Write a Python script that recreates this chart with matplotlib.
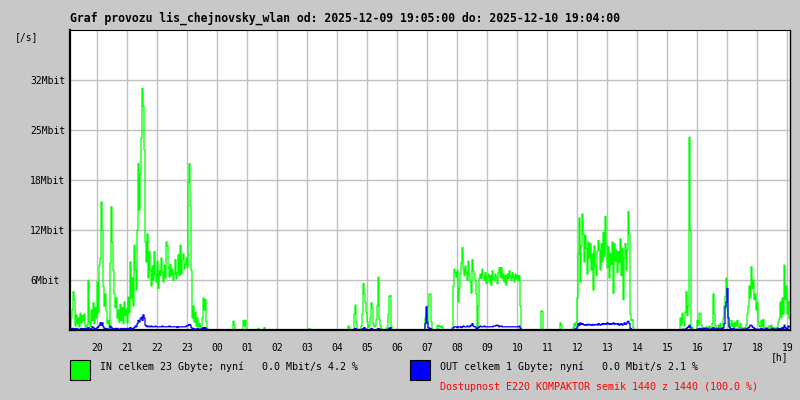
import matplotlib
matplotlib.use("Agg")
import matplotlib.pyplot as plt
import matplotlib.dates as mdates
import pandas as pd

# traffic samples, one per 2 minutes from 19:05 (Mbit/s)
in_mbit = [
    0.3, 1.5, 2.5, 4.8, 3.8, 0.5, 1.9, 0.8, 1.5, 0.4,
    2.1, 0.9, 1.8, 1.2, 2.0, 0.5, 0.2, 0.6, 6.2, 1.0,
    0.4, 2.5, 1.2, 3.4, 0.8, 2.8, 1.5, 6.0, 2.2, 8.1,
    9.0, 16.0, 12.5, 5.5, 3.0, 4.5, 2.4, 0.8, 1.2, 0.3,
    8.4, 15.4, 11.0, 7.5, 4.5, 2.8, 4.0, 1.5, 2.5, 1.0,
    3.2, 1.2, 2.8, 0.8, 3.5, 1.8, 2.6, 0.9, 4.1, 2.2,
    8.5, 4.0, 6.5, 3.0, 10.6, 7.5, 5.0, 12.5, 20.8, 15.0,
    19.5, 24.0, 30.2, 28.0, 22.5, 11.0, 8.5, 12.0, 6.5, 9.8,
    7.5, 5.5, 8.0, 6.2, 9.8, 7.0, 6.0, 8.6, 5.2, 7.4,
    6.8, 9.0, 7.2, 6.0, 8.1, 6.5, 11.0, 10.5, 7.8, 6.6,
    8.2, 6.8, 7.6, 6.2, 7.0, 8.8, 6.4, 7.2, 9.4, 6.8,
    10.6, 7.0, 8.8, 9.5, 7.6, 8.2, 9.0, 7.8, 18.5, 20.8,
    15.5, 7.5, 1.5, 3.0, 1.0, 2.2, 0.5, 1.5, 0.4, 0.8,
    0.2, 0.5, 1.5, 4.0, 2.5, 3.8, 1.0, 0.2, 0, 0,
    0, 0, 0, 0, 0, 0, 0, 0, 0, 0,
    0, 0, 0, 0, 0, 0, 0, 0, 0, 0,
    0, 0, 0, 1.1, 0.6, 0, 0, 0, 0, 0,
    0, 0, 0, 1.2, 0.5, 1.2, 0, 0, 0, 0,
    0, 0, 0, 0, 0, 0, 0, 0, 0.2, 0,
    0, 0, 0, 0, 0.3, 0, 0, 0, 0, 0,
    0, 0, 0, 0, 0, 0, 0, 0, 0, 0,
    0, 0, 0, 0, 0, 0, 0, 0, 0, 0,
    0, 0, 0, 0, 0, 0, 0, 0, 0, 0,
    0, 0, 0, 0, 0, 0, 0, 0, 0, 0.2,
    0, 0, 0, 0, 0, 0, 0, 0, 0, 0,
    0, 0, 0, 0, 0, 0, 0, 0, 0, 0,
    0, 0, 0, 0, 0, 0, 0, 0, 0, 0,
    0, 0, 0, 0, 0, 0, 0, 0, 0.5, 0.3,
    0, 0, 0, 0, 2.0, 3.1, 1.0, 0, 0, 0,
    0.2, 0.5, 2.0, 5.8, 4.5, 3.5, 2.2, 1.0, 0.3, 0.5,
    1.5, 3.4, 2.8, 0.8, 0.4, 0.5, 1.3, 3.0, 6.6, 1.4,
    0.5, 0.2, 0, 0, 0, 0, 0.2, 0.3, 2.0, 4.2,
    4.3, 0.5, 0, 0, 0, 0, 0, 0, 0, 0,
    0, 0, 0, 0, 0, 0, 0, 0, 0, 0,
    0, 0, 0, 0, 0, 0, 0, 0, 0, 0,
    0, 0, 0, 0, 0, 1.5, 2.0, 0.8, 3.0, 4.5,
    4.5, 1.0, 0, 0, 0, 0, 0, 0.5, 0.6, 0.4,
    0.5, 0.3, 0.4, 0, 0, 0, 0, 0, 0, 0,
    0, 0, 0.3, 5.5, 7.6, 7.2, 6.6, 7.4, 3.5, 5.2,
    7.0, 8.4, 10.3, 7.6, 6.8, 8.0, 7.2, 6.2, 8.6, 7.0,
    6.0, 4.6, 8.8, 7.4, 7.0, 6.2, 4.5, 0.3, 3.0, 6.5,
    7.0, 6.4, 7.6, 6.8, 6.2, 7.2, 5.8, 6.6, 7.0, 6.0,
    6.8, 5.6, 7.4, 6.4, 6.2, 7.0, 6.6, 5.8, 7.2, 7.8,
    6.6, 7.8, 6.4, 7.0, 6.0, 6.8, 5.6, 7.0, 6.4, 7.4,
    6.8, 6.2, 7.2, 6.6, 6.0, 7.0, 6.4, 6.8, 6.2, 6.8,
    3.0, 0, 0, 0, 0, 0, 0, 0, 0, 0,
    0, 0, 0, 0, 0, 0, 0, 0, 0, 0,
    0, 2.4, 2.3, 0, 0, 0, 0, 0, 0, 0,
    0, 0, 0, 0, 0, 0, 0, 0, 0, 0,
    0.9, 0.6, 0, 0, 0, 0, 0, 0, 0, 0,
    0, 0, 0, 0.3, 0.8, 0.5, 1.0, 4.0, 9.5, 14.0,
    6.0, 10.5, 14.5, 12.0, 8.5, 11.8, 10.2, 7.0, 11.0, 9.0,
    10.8, 7.5, 9.5, 5.0, 10.5, 8.0, 6.8, 9.8, 11.2, 10.0,
    7.5, 10.8, 8.5, 12.2, 9.2, 14.2, 10.5, 7.8, 10.4, 6.5,
    9.6, 8.2, 11.0, 4.6, 10.8, 8.6, 10.0, 7.2, 9.8, 8.4,
    11.4, 6.8, 10.2, 3.8, 9.0, 10.8, 7.5, 10.0, 14.8, 12.0,
    2.0, 1.2, 1.3, 0.3, 0, 0, 0, 0, 0, 0,
    0, 0, 0, 0, 0, 0, 0, 0, 0, 0,
    0, 0, 0, 0, 0, 0, 0, 0, 0, 0,
    0, 0, 0, 0, 0, 0, 0, 0, 0, 0,
    0, 0, 0, 0, 0, 0, 0, 0, 0, 0,
    1.5, 0.6, 2.1, 1.0, 0.5, 2.2, 4.8, 1.8, 3.0, 24.1,
    12.5, 0.4, 0.3, 0, 0, 0, 0, 1.2, 0.6, 2.1,
    2.1, 0.6, 0.3, 0.2, 0.3, 0.2, 0.4, 0.3, 0.2, 0.5,
    0.3, 0.2, 0.8, 4.5, 2.0, 0.5, 0.3, 0.2, 0.6, 0.3,
    0.8, 0.3, 0.2, 1.5, 3.0, 4.2, 6.5, 2.5, 0.8, 0.3,
    0.6, 1.2, 0.4, 0.8, 0.3, 1.0, 0.5, 1.2, 0.4, 0.3,
    0.8, 0.3, 0.2, 0.2, 0.3, 0.2, 0.6, 2.0, 3.0, 5.5,
    4.0, 7.9, 5.2, 6.2, 3.8, 4.5, 2.5, 3.4, 1.0, 0.5,
    0.4, 1.2, 0.4, 1.3, 0.3, 0.2, 0.3, 0.2, 0.4, 0.5,
    0.3, 0.6, 0.2, 0.3, 0.2, 0.2, 0.3, 0.2, 1.0, 1.4,
    3.5, 1.6, 4.0, 2.0, 8.1, 3.8, 5.5, 2.0, 3.6, 1.5,
]

out_mbit = [
    0.1, 0.1, 0.2, 0.2, 0.1, 0.1, 0.2, 0.1, 0.1, 0.1,
    0.1, 0.2, 0.1, 0.1, 0.2, 0.1, 0.1, 0.2, 0.3, 0.1,
    0.1, 0.2, 0.4, 0.3, 0.2, 0.1, 0.2, 0.3, 0.4, 0.6,
    0.9, 0.6, 0.9, 0.4, 0.2, 0.1, 0.2, 0.1, 0.1, 0.1,
    0.5, 0.3, 0.2, 0.1, 0.1, 0.2, 0.1, 0.2, 0.1, 0.1,
    0.1, 0.2, 0.1, 0.1, 0.2, 0.1, 0.1, 0.2, 0.1, 0.2,
    0.3, 0.2, 0.1, 0.2, 0.3, 0.5, 0.4, 0.8, 1.2, 1.0,
    1.4, 1.6, 1.2, 1.9, 1.5, 0.6, 0.5, 0.4, 0.5, 0.4,
    0.4, 0.5, 0.4, 0.4, 0.4, 0.5, 0.4, 0.4, 0.4, 0.4,
    0.4, 0.4, 0.5, 0.4, 0.4, 0.4, 0.4, 0.4, 0.4, 0.5,
    0.4, 0.4, 0.4, 0.4, 0.4, 0.4, 0.4, 0.3, 0.4, 0.4,
    0.4, 0.4, 0.4, 0.4, 0.4, 0.4, 0.5, 0.5, 0.6, 0.7,
    0.6, 0.3, 0.1, 0.2, 0.1, 0.1, 0.1, 0.2, 0.1, 0.1,
    0.1, 0.1, 0.2, 0.3, 0.2, 0.3, 0.1, 0, 0, 0,
    0, 0, 0, 0, 0, 0, 0, 0, 0, 0,
    0, 0, 0, 0, 0, 0, 0, 0, 0, 0,
    0, 0, 0, 0, 0, 0, 0, 0, 0, 0,
    0, 0, 0, 0, 0, 0, 0, 0, 0, 0,
    0, 0, 0, 0, 0, 0, 0, 0, 0, 0,
    0, 0, 0, 0, 0, 0, 0, 0, 0, 0,
    0, 0, 0, 0, 0, 0, 0, 0, 0, 0,
    0, 0, 0, 0, 0, 0, 0, 0, 0, 0,
    0, 0, 0, 0, 0, 0, 0, 0, 0, 0,
    0, 0, 0, 0, 0, 0, 0, 0, 0, 0,
    0, 0, 0, 0, 0, 0, 0, 0, 0, 0,
    0, 0, 0, 0, 0, 0, 0, 0, 0, 0,
    0, 0, 0, 0, 0, 0, 0, 0, 0, 0,
    0, 0, 0, 0, 0, 0, 0, 0, 0, 0,
    0, 0, 0, 0, 0.1, 0.2, 0.1, 0, 0, 0,
    0, 0, 0.1, 0.2, 0.3, 0.1, 0.1, 0, 0, 0,
    0.1, 0.2, 0.1, 0, 0, 0, 0, 0.1, 0.2, 0.1,
    0, 0, 0, 0, 0, 0, 0, 0, 0.1, 0.2,
    0.3, 0, 0, 0, 0, 0, 0, 0, 0, 0,
    0, 0, 0, 0, 0, 0, 0, 0, 0, 0,
    0, 0, 0, 0, 0, 0, 0, 0, 0, 0,
    0, 0, 0, 0, 0, 0.8, 2.9, 1.0, 0.3, 0.2,
    0.2, 0.1, 0, 0, 0, 0, 0, 0, 0.1, 0,
    0, 0, 0, 0, 0, 0, 0, 0, 0, 0,
    0, 0, 0.1, 0.3, 0.4, 0.4, 0.4, 0.3, 0.4, 0.4,
    0.4, 0.3, 0.4, 0.5, 0.4, 0.4, 0.4, 0.5, 0.4, 0.4,
    0.5, 0.6, 0.8, 0.5, 0.4, 0.4, 0.2, 0.1, 0.3, 0.4,
    0.5, 0.4, 0.4, 0.4, 0.5, 0.4, 0.4, 0.4, 0.4, 0.4,
    0.4, 0.4, 0.4, 0.5, 0.5, 0.5, 0.6, 0.6, 0.5, 0.4,
    0.5, 0.5, 0.4, 0.4, 0.4, 0.4, 0.4, 0.4, 0.4, 0.4,
    0.4, 0.4, 0.4, 0.4, 0.4, 0.4, 0.4, 0.4, 0.4, 0.5,
    0.2, 0, 0, 0, 0, 0, 0, 0, 0, 0,
    0, 0, 0, 0, 0, 0, 0, 0, 0, 0,
    0, 0, 0, 0, 0, 0, 0, 0, 0, 0,
    0, 0, 0, 0, 0, 0, 0, 0, 0, 0,
    0, 0, 0, 0, 0, 0, 0, 0, 0, 0,
    0, 0, 0, 0, 0.1, 0.1, 0.2, 0.4, 0.8, 0.6,
    0.9, 0.7, 0.8, 0.7, 0.6, 0.6, 0.7, 0.6, 0.7, 0.7,
    0.6, 0.6, 0.7, 0.6, 0.6, 0.7, 0.7, 0.6, 0.8, 0.7,
    0.6, 0.7, 0.8, 0.7, 0.8, 0.8, 0.7, 0.9, 0.8, 0.7,
    0.8, 0.7, 0.8, 0.9, 0.7, 0.8, 0.8, 0.7, 0.8, 0.6,
    0.7, 0.8, 0.6, 0.7, 0.9, 0.7, 0.8, 1.0, 1.1, 0.8,
    0.2, 0.1, 0, 0, 0, 0, 0, 0, 0, 0,
    0, 0, 0, 0, 0, 0, 0, 0, 0, 0,
    0, 0, 0, 0, 0, 0, 0, 0, 0, 0,
    0, 0, 0, 0, 0, 0, 0, 0, 0, 0,
    0, 0, 0, 0, 0, 0, 0, 0, 0, 0,
    0, 0, 0.1, 0.1, 0, 0.1, 0.2, 0.3, 0.4, 0.6,
    0.3, 0.1, 0, 0, 0, 0, 0, 0.1, 0.1, 0.2,
    0.2, 0.1, 0.1, 0.2, 0.2, 0.1, 0.2, 0.2, 0.1, 0.1,
    0.1, 0.1, 0.2, 0.3, 0.2, 0.1, 0.1, 0.1, 0.2, 0.1,
    0.1, 0.2, 0.1, 0.3, 0.8, 2.9, 3.5, 5.2, 1.5, 0.4,
    0.2, 0.1, 0.1, 0.2, 0.1, 0.1, 0.1, 0.1, 0.1, 0.1,
    0.1, 0.1, 0.1, 0.1, 0.1, 0.1, 0.1, 0.2, 0.3, 0.4,
    0.6, 0.6, 0.4, 0.3, 0.2, 0.1, 0.1, 0.1, 0.1, 0.1,
    0.1, 0.2, 0.1, 0.1, 0.1, 0.1, 0.2, 0.1, 0.1, 0.1,
    0.1, 0.1, 0.2, 0.1, 0.1, 0.1, 0.1, 0.1, 0.2, 0.1,
    0.1, 0.2, 0.3, 0.2, 0.6, 0.3, 0.2, 0.2, 0.5, 0.4,
]

y_ticks = [6.25, 12.5, 18.75, 25.0, 31.25]
y_labels = ["6Mbit", "12Mbit", "18Mbit", "25Mbit", "32Mbit"]

title = "Graf provozu lis_chejnovsky_wlan od: 2025-12-09 19:05:00 do: 2025-12-10 19:04:00"
in_text = "IN celkem 23 Gbyte; nyní   0.0 Mbit/s 4.2 %"
out_text = "OUT celkem 1 Gbyte; nyní   0.0 Mbit/s 2.1 %"
avail_text = "Dostupnost E220 KOMPAKTOR semik 1440 z 1440 (100.0 %)"

start = pd.Timestamp("2025-12-09 19:05")
times = pd.date_range(start + pd.Timedelta("1min"), periods=len(in_mbit), freq="2min")

BG = "#c8c8c8"
MONO = "DejaVu Sans Mono"

fig = plt.figure(figsize=(8, 4), dpi=100, facecolor=BG)
ax = fig.add_axes([70 / 800, 70 / 400, 720 / 800, 300 / 400])
ax.set_facecolor("white")

ax.plot(times, in_mbit, color="#00ff00", lw=0.9, drawstyle="steps-mid")
ax.plot(times, out_mbit, color="#0000ff", lw=0.9, drawstyle="steps-mid")

ax.set_xlim(start, start + pd.Timedelta("24h"))
ax.set_ylim(0, 37.5)
ax.xaxis.set_major_locator(mdates.HourLocator())
ax.xaxis.set_major_formatter(mdates.DateFormatter("%H"))
ax.set_yticks(y_ticks)
ax.set_yticklabels(y_labels)
ax.grid(True, color="#c0c0c0", lw=1.0)
ax.set_axisbelow(True)

ax.tick_params(axis="x", length=0, pad=9.5, labelsize=7)
ax.tick_params(axis="y", length=0, pad=28.8, labelsize=7)
for lbl in ax.get_xticklabels() + ax.get_yticklabels():
    lbl.set_fontfamily(MONO)
for lbl in ax.get_yticklabels():
    lbl.set_horizontalalignment("left")

ax.spines["left"].set_linewidth(1.6)
ax.spines["bottom"].set_linewidth(1.6)
ax.spines["top"].set_linewidth(0.8)
ax.spines["right"].set_linewidth(1.0)


def px(x, y):
    return x / 800, 1 - y / 400


fig.text(*px(70, 18), title, family=MONO, weight="bold", fontsize=8.3, va="center")
fig.text(*px(15, 37), "[/s]", family=MONO, fontsize=7, va="center")
fig.text(*px(771, 357), "[h]", family=MONO, fontsize=7, va="center")

fig.patches.append(plt.Rectangle(px(70, 380), 20 / 800, 20 / 400, transform=fig.transFigure,
                                 facecolor="#00ff00", edgecolor="black", lw=0.8))
fig.patches.append(plt.Rectangle(px(410, 380), 20 / 800, 20 / 400, transform=fig.transFigure,
                                 facecolor="#0000ff", edgecolor="black", lw=0.8))
fig.text(*px(100, 367), in_text, family=MONO, fontsize=7.2, va="center")
fig.text(*px(440, 367), out_text, family=MONO, fontsize=7.2, va="center")
fig.text(*px(440, 387), avail_text, family=MONO, fontsize=7.2, va="center", color="#ff0000")

fig.savefig("out.png", dpi=100, facecolor=BG)
